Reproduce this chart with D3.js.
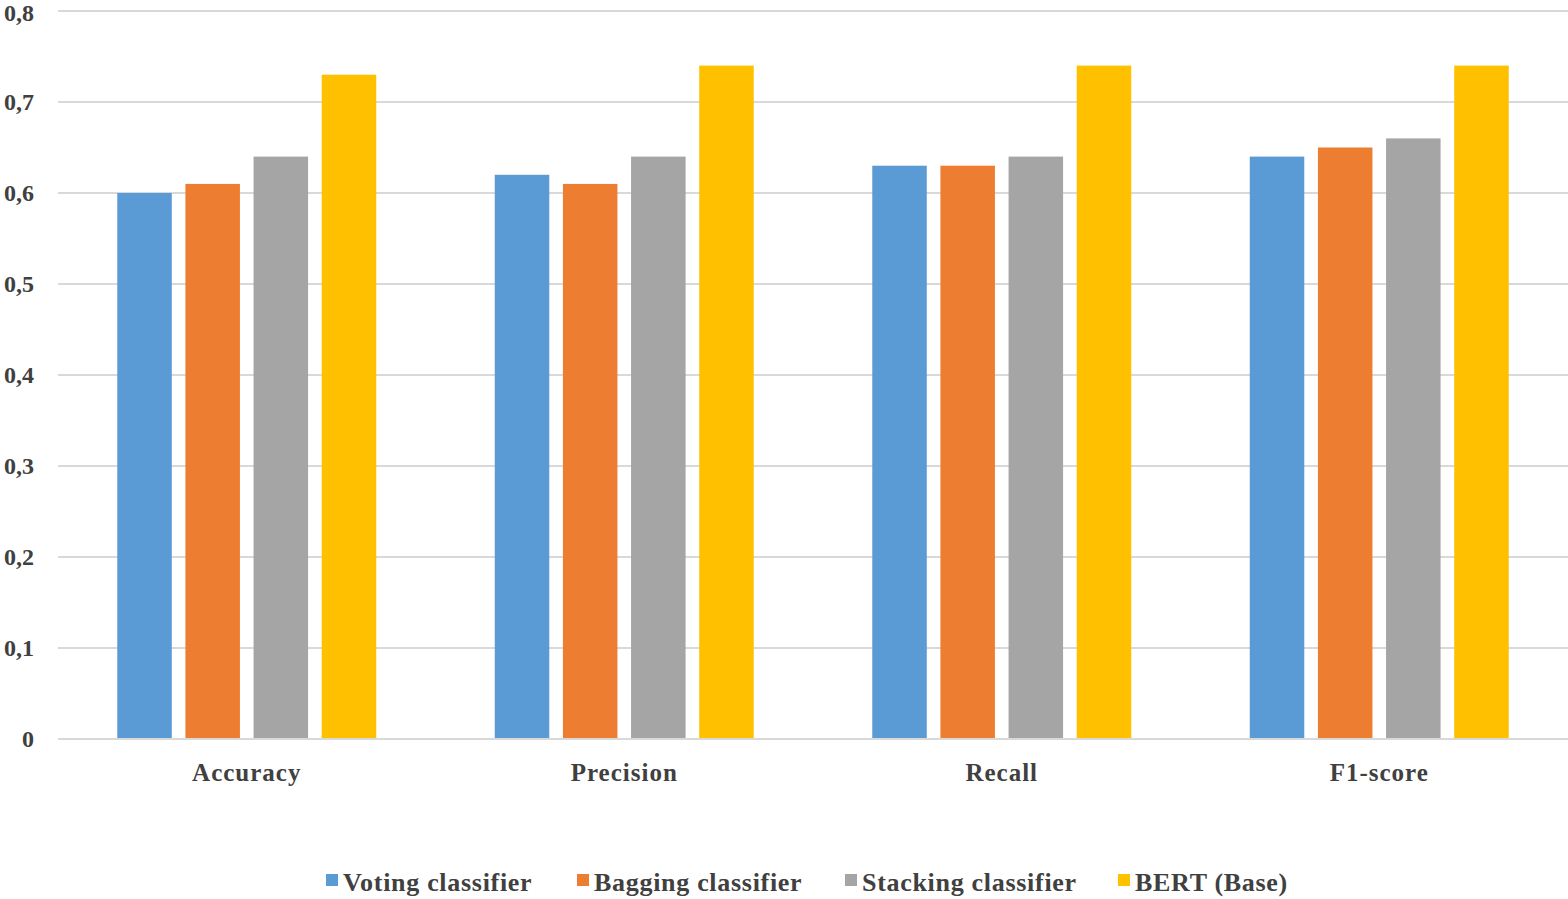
<!DOCTYPE html>
<html><head><meta charset="utf-8">
<script src="https://cdn.jsdelivr.net/npm/d3@7"></script>
<style>body{margin:0;background:#fff;}svg{display:block;}</style>
</head><body>
<svg id="c" width="1568" height="899"></svg>
<script>
const categories = ["Accuracy", "Precision", "Recall", "F1-score"];
const seriesNames = ["Voting classifier", "Bagging classifier", "Stacking classifier", "BERT (Base)"];
const voting   = [0.60, 0.62, 0.63, 0.64];
const bagging  = [0.61, 0.61, 0.63, 0.65];
const stacking = [0.64, 0.64, 0.64, 0.66];
const bert     = [0.73, 0.74, 0.74, 0.74];
const yTicks = [0, 0.1, 0.2, 0.3, 0.4, 0.5, 0.6, 0.7, 0.8];
const colors = ["#5B9BD5", "#ED7D31", "#A5A5A5", "#FFC000"];

(function () {
const series = [voting, bagging, stacking, bert];
const svg = d3.select("#c");
const font = "'Liberation Serif','Times New Roman',serif";
const txt = "#404040";
const pl = 58, pr = 1568, pt = 11, pb = 739;

const x0 = d3.scaleBand().domain(categories).range([pl, pr]).paddingInner(0.314).paddingOuter(0.157);
const x1 = d3.scaleBand().domain(d3.range(series.length)).range([0, x0.bandwidth()]).paddingInner(0.2);
const y = d3.scaleLinear().domain([0, 0.8]).range([pb, pt]);

svg.append("g").selectAll("line").data(yTicks).join("line")
  .attr("x1", pl).attr("x2", pr)
  .attr("y1", d => y(d)).attr("y2", d => y(d))
  .attr("stroke", "#D9D9D9").attr("stroke-width", 2);

svg.append("g").selectAll("text").data(yTicks).join("text")
  .attr("x", 34).attr("y", d => Math.max(y(d), 13)).attr("dy", "0.35em")
  .attr("text-anchor", "end")
  .attr("font-family", font).attr("font-weight", "bold").attr("font-size", 24)
  .attr("fill", txt)
  .text(d => d === 0 ? "0" : d3.format(".1f")(d).replace(".", ","));

const g = svg.append("g");
categories.forEach((c, ci) => {
  series.forEach((s, si) => {
    g.append("rect")
      .attr("x", x0(c) + x1(si))
      .attr("width", x1.bandwidth())
      .attr("y", y(s[ci]))
      .attr("height", y(0) - y(s[ci]))
      .attr("fill", colors[si]);
  });
});

svg.append("line").attr("x1", pl).attr("x2", pr).attr("y1", y(0)).attr("y2", y(0))
  .attr("stroke", "#D9D9D9").attr("stroke-width", 2);

svg.append("g").selectAll("text").data(categories).join("text")
  .attr("x", d => x0(d) + x0.bandwidth() / 2).attr("y", 781)
  .attr("text-anchor", "middle")
  .attr("font-family", font).attr("font-weight", "bold").attr("font-size", 25)
  .attr("letter-spacing", 1)
  .attr("fill", txt).text(d => d);

const legX = [326, 577, 845, 1118];
const leg = svg.append("g");
seriesNames.forEach((n, i) => {
  leg.append("rect").attr("x", legX[i]).attr("y", 874).attr("width", 12).attr("height", 12).attr("fill", colors[i]);
  leg.append("text").attr("x", legX[i] + 17).attr("y", 891)
    .attr("font-family", font).attr("font-weight", "bold").attr("font-size", 26)
    .attr("letter-spacing", 0.7)
    .attr("fill", txt).text(n);
});
})();
</script>
</body></html>
